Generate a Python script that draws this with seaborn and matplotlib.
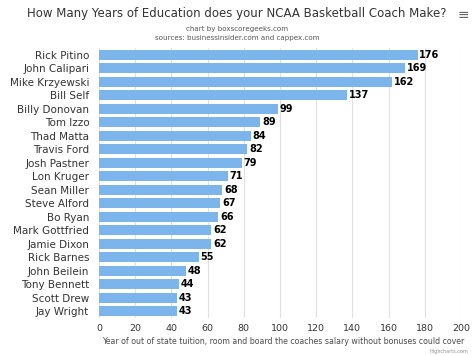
import matplotlib
matplotlib.use("Agg")
import matplotlib.pyplot as plt
import seaborn as sns
import pandas as pd

coaches = ["Rick Pitino", "John Calipari", "Mike Krzyewski", "Bill Self", "Billy Donovan",
           "Tom Izzo", "Thad Matta", "Travis Ford", "Josh Pastner", "Lon Kruger",
           "Sean Miller", "Steve Alford", "Bo Ryan", "Mark Gottfried", "Jamie Dixon",
           "Rick Barnes", "John Beilein", "Tony Bennett", "Scott Drew", "Jay Wright"]
years = [176, 169, 162, 137, 99, 89, 84, 82, 79, 71, 68, 67, 66, 62, 62, 55, 48, 44, 43, 43]
xticks = [0, 20, 40, 60, 80, 100, 120, 140, 160, 180, 200]

df = pd.DataFrame({"coach": coaches, "years": years})

sns.set_theme(style="white")
plt.rcParams['font.family'] = ['DejaVu Sans']

fig = plt.figure(figsize=(4.74, 3.55), dpi=100)
ax = fig.add_axes([99/474, 1 - 318/355, (461-99)/474, (318-48)/355])

sns.barplot(data=df, x="years", y="coach", color="#7cb5ec", saturation=1,
            width=0.74, ax=ax, orient="h", zorder=3, linewidth=0)
for i, v in enumerate(years):
    ax.text(v + 1, i, str(v), va="center", ha="left", fontsize=7,
            fontweight="bold", color="black")

ax.set_xlim(0, 200)
ax.set_ylim(len(coaches) - 0.5, -0.5)
ax.set_xticks(xticks)
ax.set_xticklabels([str(t) for t in xticks], fontsize=6.8, color="#333333")
ax.tick_params(axis="y", labelsize=7.5, labelcolor="#333333", length=0, pad=7)
ax.tick_params(axis="x", length=0, pad=4)
ax.grid(axis="x", color="#e0e0e0", linewidth=0.8, zorder=0)
for s in ax.spines.values():
    s.set_visible(False)
ax.set_ylabel("")
ax.set_xlabel("")

fig.text(283/474, 1 - 342/355,
         "Year of out of state tuition, room and board the coaches salary without bonuses could cover",
         ha="center", va="center", fontsize=5.7, color="#4d4d4d")
fig.text(0.5, 1 - 14/355, "How Many Years of Education does your NCAA Basketball Coach Make?",
         ha="center", va="center", fontsize=8.5, color="#333333")
fig.text(0.5, 1 - 29/355, "chart by boxscoregeeks.com", ha="center", va="center",
         fontsize=5.1, color="#555555")
fig.text(0.5, 1 - 38/355, "sources: businessinsider.com and cappex.com", ha="center", va="center",
         fontsize=5.1, color="#555555")
fig.text(463/474, 1 - 15/355, "≡", ha="center", va="center", fontsize=10, color="#666666")
fig.text(468/474, 1 - 351/355, "Highcharts.com", ha="right", va="center", fontsize=3.5, color="#909090")

fig.savefig("out.png", dpi=100)
